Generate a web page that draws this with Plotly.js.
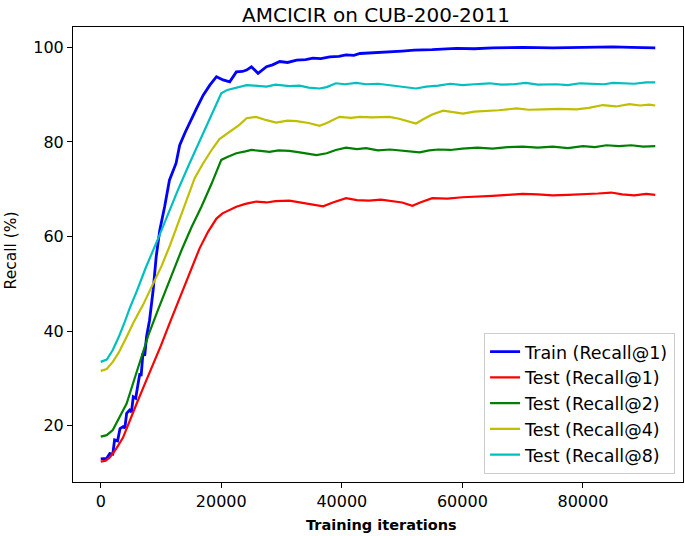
<!DOCTYPE html>
<html>
<head>
<meta charset="utf-8">
<script src="https://cdn.plot.ly/plotly-3.0.1.min.js"></script>
<style>
  html, body { margin: 0; padding: 0; background: #fff; }
  #chart { width: 685px; height: 536px; }
</style>
</head>
<body>
<div id="chart"></div>
<script>
//---------------------------------------------------------------------------------------------------------------------
// Data
//---------------------------------------------------------------------------------------------------------------------
var trainIter = [0, 1000, 1500, 2000, 2300, 2800, 3200, 3700, 4000, 4300, 4800, 5100, 5400, 5800, 6200, 6500, 6700,
    7000, 7300, 7600, 8100, 8700, 9200, 9800, 10600, 11400, 12500, 13100, 14000, 14800, 15900, 17000, 18100, 19200,
    20300, 21400, 22500, 23500, 24200, 25000, 26100, 27500, 28500, 29700, 31000, 32500, 34000, 35200, 36500, 38000,
    39500, 40700, 42000, 43000, 45000, 47900, 50000, 52000, 55000, 59000, 62000, 65000, 70000, 75000, 80000, 85000,
    88000, 92000];
var trainRecall1 = [13.0, 13.1, 14.1, 14.0, 17.0, 16.8, 19.4, 19.8, 19.5, 22.6, 23.3, 22.9, 26.1, 25.8, 28.9, 31.1, 30.5,
    35.3, 34.8, 38.8, 42.3, 48.7, 55.7, 61.4, 66.3, 71.9, 75.5, 79.3, 82.0, 84.3, 87.1, 89.9, 92.0, 93.8,
    93.1, 92.7, 94.8, 94.9, 95.2, 95.9, 94.5, 95.9, 96.3, 97.0, 96.8, 97.3, 97.4, 97.7, 97.6, 98.0,
    98.1, 98.4, 98.3, 98.7, 98.8, 99.1, 99.2, 99.4, 99.5, 99.8, 99.7, 99.9, 100.0, 99.9, 100.0, 100.1,
    100.0, 99.9];

var r1Iter = [0, 800, 1500, 2500, 3700, 4800, 6000, 7300, 8600, 10000, 11500, 13100, 14700, 16400, 17800, 19200,
    20200, 21500, 22500, 24000, 25800, 27500, 29000, 31300, 33500, 35000, 36900, 38500, 40700, 42500, 44500, 46500,
    48500, 50000, 51700, 53000, 55000, 57500, 60000, 62500, 65000, 67500, 70000, 72500, 75000, 77500, 80000, 82500,
    84700, 86500, 88500, 90500, 92000];
var testRecall1 = [12.4, 12.6, 13.3, 15.0, 17.5, 20.8, 24.8, 28.8, 32.6, 37.0, 41.9, 47.0, 52.0, 57.5, 61.0, 63.8,
    64.9, 65.7, 66.3, 66.9, 67.4, 67.2, 67.5, 67.6, 67.1, 66.8, 66.4, 67.2, 68.1, 67.7, 67.6, 67.8,
    67.4, 67.2, 66.5, 67.2, 68.1, 68.0, 68.3, 68.4, 68.6, 68.8, 69.0, 68.9, 68.7, 68.8, 68.9, 69.1,
    69.3, 68.9, 68.7, 69.0, 68.8];

var r2Iter = [0, 1000, 2000, 3000, 4300, 5500, 6500, 8000, 9500, 11500, 13400, 15000, 16700, 18400, 20000, 21000,
    22500, 24000, 25000, 26500, 28000, 29500, 31300, 33000, 34500, 35800, 37500, 39000, 40700, 42500, 44000, 46000,
    48000, 50000, 51500, 52900, 54500, 56000, 58000, 60000, 62500, 65000, 67500, 70000, 72500, 75000, 77500, 80000,
    82000, 83900, 86000, 88000, 90000, 92000];
var testRecall2 = [17.7, 18.0, 19.1, 21.5, 24.7, 29.5, 33.5, 39.5, 44.5, 51.0, 57.1, 61.8, 66.3, 71.2, 76.2, 76.8,
    77.6, 78.0, 78.3, 78.1, 77.9, 78.2, 78.1, 77.8, 77.5, 77.2, 77.6, 78.3, 78.8, 78.5, 78.7, 78.2,
    78.4, 78.1, 78.0, 77.8, 78.2, 78.4, 78.3, 78.6, 78.8, 78.6, 78.9, 79.0, 78.8, 79.0, 78.7, 79.1,
    78.9, 79.3, 79.1, 79.3, 79.0, 79.1];

var r4Iter = [0, 1000, 2000, 3000, 4300, 5500, 7000, 8500, 10100, 11500, 12800, 14200, 15600, 17000, 18500, 19700,
    20500, 21900, 23000, 24200, 25800, 27500, 29100, 31000, 32500, 34500, 36300, 37500, 39600, 41500, 43000, 45000,
    47900, 49500, 51000, 52300, 53500, 55000, 56800, 58500, 60100, 62000, 64000, 66000, 69000, 71000, 73500, 76000,
    78900, 81000, 83300, 85500, 87700, 89500, 91000, 92000];
var testRecall4 = [31.6, 32.0, 33.5, 35.5, 38.8, 42.0, 45.5, 49.5, 53.8, 58.2, 62.8, 67.5, 72.4, 75.5, 78.5, 80.6,
    81.3, 82.5, 83.6, 85.0, 85.3, 84.6, 84.1, 84.5, 84.4, 84.0, 83.4, 84.0, 85.3, 85.1, 85.3, 85.2,
    85.3, 84.9, 84.4, 83.9, 84.8, 85.8, 86.6, 86.3, 86.0, 86.4, 86.5, 86.7, 87.1, 86.8, 86.9, 87.0,
    86.9, 87.2, 87.8, 87.5, 88.0, 87.7, 87.9, 87.7];

var r8Iter = [0, 1000, 2000, 3000, 4000, 4800, 6000, 7500, 9500, 11000, 12800, 14500, 16400, 18200, 20000, 21000,
    22000, 23000, 24200, 25500, 27500, 29000, 31300, 33000, 34500, 36300, 37500, 39000, 40500, 42400, 44000, 46000,
    48000, 50000, 52300, 54000, 56000, 58000, 60000, 62000, 64500, 66500, 68500, 70500, 72500, 75600, 77500, 79500,
    81500, 83500, 85000, 86600, 88500, 90500, 92000];
var testRecall8 = [33.5, 34.0, 36.0, 38.8, 42.0, 44.8, 48.5, 53.5, 59.5, 64.3, 69.8, 74.8, 80.2, 85.5, 90.3, 91.0,
    91.3, 91.7, 92.0, 91.9, 91.7, 92.1, 91.8, 91.9, 91.5, 91.3, 91.6, 92.4, 92.2, 92.5, 92.2, 92.3,
    92.0, 91.8, 91.3, 91.7, 91.9, 92.3, 92.0, 92.2, 92.4, 92.1, 92.2, 92.5, 92.1, 92.2, 92.0, 92.4,
    92.3, 92.2, 92.5, 92.4, 92.3, 92.6, 92.6];

var seriesNames = ['Train (Recall@1)', 'Test (Recall@1)', 'Test (Recall@2)', 'Test (Recall@4)', 'Test (Recall@8)'];
var xTicks = [0, 20000, 40000, 60000, 80000];
var yTicks = [20, 40, 60, 80, 100];

//---------------------------------------------------------------------------------------------------------------------
// Plot
//---------------------------------------------------------------------------------------------------------------------
function lineTrace(x, y, name, color, width) {
    return {x: x, y: y, name: name, type: 'scatter', mode: 'lines', line: {color: color, width: width}};
}

function axisStyle(range, ticks) {
    return {range: range, tickvals: ticks, ticktext: ticks.map(String), showgrid: false, zeroline: false,
        showline: true, linecolor: '#000', linewidth: 1, mirror: true, ticks: 'outside', ticklen: 5,
        tickcolor: '#000', tickwidth: 1, tickfont: {family: 'DejaVu Sans', size: 16, color: '#000'}};
}

var data = [
    lineTrace(trainIter, trainRecall1, seriesNames[0], '#0000ff', 2.8),
    lineTrace(r1Iter, testRecall1, seriesNames[1], '#ff0000', 2.2),
    lineTrace(r2Iter, testRecall2, seriesNames[2], '#008000', 2.2),
    lineTrace(r4Iter, testRecall4, seriesNames[3], '#bfbf00', 2.2),
    lineTrace(r8Iter, testRecall8, seriesNames[4], '#00bfbf', 2.2)
];

var layout = {
    width: 685, height: 536,
    margin: {l: 73, r: 2, t: 27, b: 54},
    paper_bgcolor: '#fff', plot_bgcolor: '#fff',
    font: {family: 'DejaVu Sans', color: '#000'},
    title: {text: 'AMCICIR on CUB-200-2011', font: {family: 'DejaVu Sans', size: 20, color: '#000'},
        x: 376 / 685, xanchor: 'center', y: 1 - 15 / 536, yanchor: 'middle'},
    xaxis: axisStyle([-4600, 96600], xTicks),
    yaxis: axisStyle([8.1, 104.3], yTicks),
    showlegend: true,
    legend: {x: 0.987, xanchor: 'right', y: 0.018, yanchor: 'bottom', bgcolor: 'rgba(255,255,255,0.8)',
        bordercolor: '#cccccc', borderwidth: 1, font: {family: 'DejaVu Sans', size: 17.5, color: '#000'}},
    annotations: [
        {text: '<b>Training iterations</b>', xref: 'paper', yref: 'paper', x: 0.505, y: -0.0945,
            xanchor: 'center', yanchor: 'middle', showarrow: false,
            font: {family: 'DejaVu Sans', size: 14.5, color: '#000'}},
        {text: 'Recall (%)', xref: 'paper', yref: 'paper', x: -0.1025, y: 0.51, textangle: -90,
            xanchor: 'center', yanchor: 'middle', showarrow: false,
            font: {family: 'DejaVu Sans', size: 15.5, color: '#000'}}
    ]
};

Plotly.newPlot('chart', data, layout, {displayModeBar: false, staticPlot: true});
</script>
</body>
</html>
